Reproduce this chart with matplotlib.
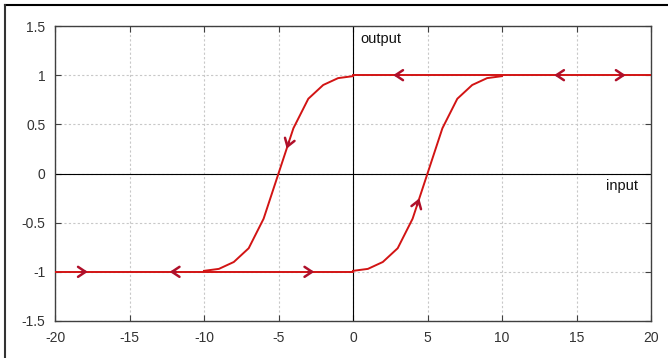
import numpy as np
import matplotlib
matplotlib.use("Agg")
import matplotlib.pyplot as plt
from matplotlib.lines import Line2D

# hysteresis loop
rise_x = [0, 1, 2, 3, 4, 5, 6, 7, 8, 9, 10]
rise_y = [-0.99, -0.97, -0.9, -0.76, -0.46, 0.0, 0.46, 0.76, 0.9, 0.97, 0.99]
fall_x = [0, -1, -2, -3, -4, -5, -6, -7, -8, -9, -10]
fall_y = [0.99, 0.97, 0.9, 0.76, 0.46, 0.0, -0.46, -0.76, -0.9, -0.97, -0.99]
upper_x = [0, 20]
upper_y = [1, 1]
lower_x = [-20, 0]
lower_y = [-1, -1]

# arrow marks: (x on branch, direction)
upper_arrows = [(3.0, -1), (13.8, -1), (18.0, 1)]
lower_arrows = [(-18.1, 1), (-12.0, -1), (-2.9, 1)]

xticks = [-20, -15, -10, -5, 0, 5, 10, 15, 20]
yticks = [-1.5, -1, -0.5, 0, 0.5, 1, 1.5]

plt.rcParams['font.family'] = ['Liberation Sans', 'DejaVu Sans']

fig = plt.figure(figsize=(6.68, 3.58), dpi=100)
ax = fig.add_axes([55 / 668, 37 / 358, 596 / 668, 295 / 358])

line_col = '#d21414'
arrow_col = '#b0102a'

ax.grid(True, color='#c8c8c8', linestyle=(0, (2, 2)), linewidth=0.8)
ax.set_axisbelow(True)
ax.axhline(0, color='black', lw=0.8, zorder=1.5)
ax.axvline(0, color='black', lw=0.8, zorder=1.5)

for xs, ys in [(rise_x, rise_y), (fall_x, fall_y), (upper_x, upper_y), (lower_x, lower_y)]:
    ax.plot(xs, ys, color=line_col, lw=1.4, zorder=3)

head = dict(arrowstyle='->, head_length=0.45, head_width=0.3', color=arrow_col,
            lw=1.8, shrinkA=0, shrinkB=0, mutation_scale=12)

for x, d in upper_arrows:
    ax.annotate('', xy=(x + 0.3 * d, 1), xytext=(x - 0.1 * d, 1), arrowprops=head, zorder=4)
for x, d in lower_arrows:
    ax.annotate('', xy=(x + 0.3 * d, -1), xytext=(x - 0.1 * d, -1), arrowprops=head, zorder=4)

# arrows along the two s-curves
fx = fall_x[::-1]
fy = fall_y[::-1]
ax.annotate('', xy=(-4.45, np.interp(-4.45, fx, fy)), xytext=(-4.3, np.interp(-4.3, fx, fy)),
            arrowprops=head, zorder=4)
ax.annotate('', xy=(4.45, np.interp(4.45, rise_x, rise_y)), xytext=(4.3, np.interp(4.3, rise_x, rise_y)),
            arrowprops=head, zorder=4)

ax.text(0.47, 1.37, 'output', fontsize=10.5, ha='left', va='center', color='#111111')
ax.text(17.0, -0.13, 'input', fontsize=10.5, ha='left', va='center', color='#111111')

ax.set_xlim(-20, 20)
ax.set_ylim(-1.5, 1.5)
ax.set_xticks(xticks)
ax.set_yticks(yticks)
ax.set_xticklabels([str(t) for t in xticks])
ax.set_yticklabels(['-1.5', '-1', '-0.5', '0', '0.5', '1', '1.5'])
ax.tick_params(direction='in', length=4, width=0.8, color='#404040', labelsize=10,
               labelcolor='#333333', top=True, right=True, pad=7)
for s in ax.spines.values():
    s.set_color('#404040')
    s.set_linewidth(1.0)

# outer frame lines of the screenshot
fig.add_artist(Line2D([5 / 668, 1], [1 - 4.5 / 358, 1 - 4.5 / 358], color='black', lw=1.5,
                      transform=fig.transFigure))
fig.add_artist(Line2D([5 / 668, 5 / 668], [0, 1 - 4.5 / 358], color='#333333', lw=1.5,
                      transform=fig.transFigure))

fig.savefig('out.png', dpi=100)
